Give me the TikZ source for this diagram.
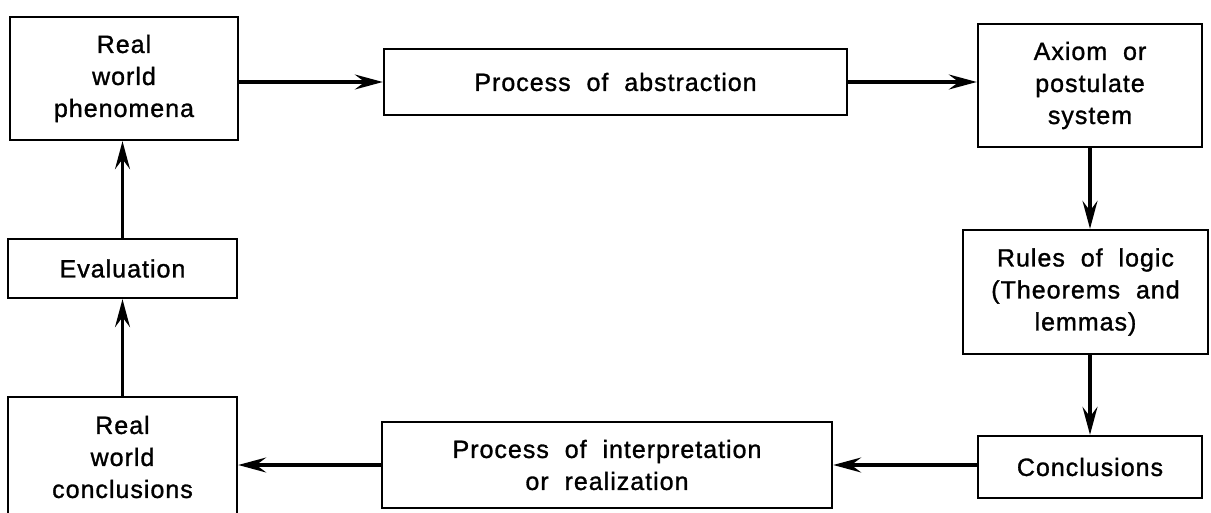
\documentclass[tikz,border=0pt]{standalone}
\usepackage{fontspec}
\setmainfont{Liberation Sans}[LetterSpace=4,WordSpace=2,FakeBold=1.2]
\usetikzlibrary{arrows.meta}
\begin{document}
\begin{tikzpicture}[x=1pt,y=-1pt,
  box/.style={draw, line width=2.4pt, align=center, inner sep=0pt,
    font=\fontsize{25}{32}\selectfont},
  conn/.style={line width=3.2pt, -{Stealth[length=28pt,width=15pt,inset=10pt]}}]
\useasboundingbox (0,0) rectangle (1211,513);
\node[box, minimum width=228pt, minimum height=123pt] (rwp) at (124,78.5) {Real\\world\\phenomena};
\node[box, minimum width=463pt, minimum height=66pt] (abs) at (615.5,82) {Process of abstraction};
\node[box, minimum width=224pt, minimum height=123pt] (axiom) at (1090,85.5) {Axiom or\\postulate\\system};
\node[box, minimum width=245pt, minimum height=124pt] (rules) at (1085.5,292) {Rules of logic\\(Theorems and\\lemmas)};
\node[box, minimum width=224pt, minimum height=62pt] (conc) at (1090,467) {Conclusions};
\node[box, minimum width=450pt, minimum height=86pt] (interp) at (607,465) {Process of interpretation\\or realization};
\node[box, minimum width=229pt, minimum height=120pt] (rwc) at (122.5,457) {Real\\world\\conclusions};
\node[box, minimum width=229pt, minimum height=59pt] (eval) at (122.5,268.5) {Evaluation};
\draw[conn] (rwp.east |- abs.west) -- (abs.west);
\draw[conn] (abs.east) -- (abs.east -| axiom.west);
\draw[conn] (axiom.south) -- (axiom.south |- rules.north);
\draw[conn] (axiom.south |- rules.south) -- (conc.north);
\draw[conn] (conc.west |- interp.east) -- (interp.east);
\draw[conn] (interp.west) -- (interp.west -| rwc.east);
\draw[conn] (rwc.north) -- (eval.south);
\draw[conn] (eval.north) -- (eval.north |- rwp.south);
\end{tikzpicture}
\end{document}
